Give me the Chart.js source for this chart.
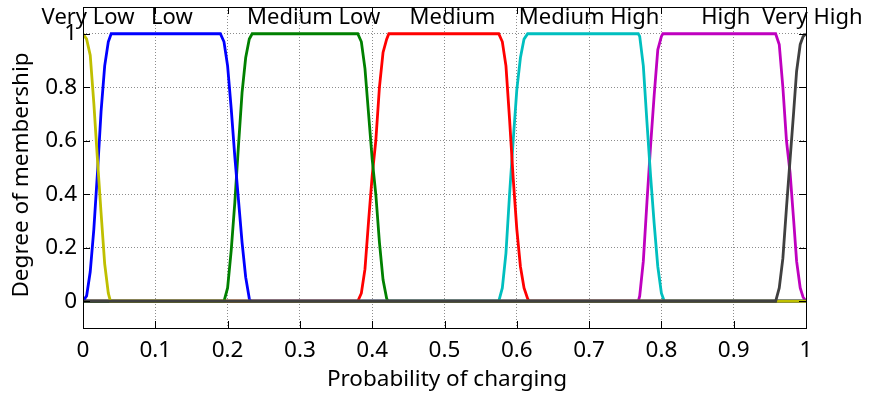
<!DOCTYPE html>
<html>
<head>
<meta charset="utf-8">
<script src="https://cdn.jsdelivr.net/npm/chart.js@4/dist/chart.umd.min.js"></script>
<style>
  html, body { margin: 0; padding: 0; background: #fff; }
  #wrap { width: 869px; height: 396px; }
</style>
</head>
<body>
<div id="wrap"><canvas id="c" width="869" height="396"></canvas></div>
<script>
// Linguistic terms of the fuzzy variable "probability of charging"
const categories = ['Very Low', 'Low', 'Medium Low', 'Medium', 'Medium High', 'High', 'Very High'];

// Membership degree of each term, as [probability, degree] pairs
const veryLow = [[0,1],[0.005,0.98],[0.01,0.92],[0.015,0.74],[0.02,0.53],[0.025,0.33],[0.03,0.14],[0.035,0.03],[0.038,0],[1,0]];
const low = [[0,0],[0.005,0.02],[0.01,0.11],[0.015,0.27],[0.02,0.48],[0.025,0.71],[0.03,0.88],[0.035,0.97],[0.039,1],
             [0.19,1],[0.195,0.97],[0.2,0.88],[0.205,0.72],[0.21,0.54],[0.215,0.38],[0.22,0.22],[0.225,0.09],[0.23,0.01],[0.232,0],[1,0]];
const mediumLow = [[0,0],[0.195,0],[0.2,0.05],[0.205,0.19],[0.21,0.37],[0.215,0.58],[0.22,0.78],[0.225,0.91],[0.23,0.98],[0.234,1],
                   [0.38,1],[0.385,0.97],[0.39,0.87],[0.395,0.7],[0.4,0.53],[0.405,0.4],[0.41,0.22],[0.415,0.08],[0.42,0.01],[0.422,0],[1,0]];
const medium = [[0,0],[0.38,0],[0.385,0.03],[0.39,0.12],[0.395,0.3],[0.4,0.47],[0.405,0.6],[0.41,0.8],[0.415,0.93],[0.42,0.98],[0.423,1],
                [0.575,1],[0.58,0.97],[0.585,0.88],[0.59,0.68],[0.595,0.46],[0.6,0.27],[0.605,0.13],[0.61,0.05],[0.615,0.01],[0.617,0],[1,0]];
const mediumHigh = [[0,0],[0.575,0],[0.58,0.05],[0.585,0.18],[0.59,0.4],[0.595,0.6],[0.6,0.79],[0.605,0.91],[0.61,0.98],[0.615,1],
                    [0.768,1],[0.77,0.99],[0.775,0.88],[0.78,0.67],[0.785,0.47],[0.79,0.29],[0.795,0.13],[0.8,0.03],[0.804,0],[1,0]];
const high = [[0,0],[0.768,0],[0.77,0.02],[0.775,0.15],[0.78,0.37],[0.785,0.58],[0.79,0.77],[0.795,0.94],[0.8,0.99],[0.802,1],
              [0.958,1],[0.963,0.96],[0.968,0.8],[0.973,0.6],[0.978,0.48],[0.983,0.3],[0.987,0.15],[0.992,0.05],[0.996,0.015],[1,0]];
const veryHigh = [[0,0],[0.958,0],[0.963,0.05],[0.968,0.16],[0.973,0.35],[0.978,0.53],[0.983,0.71],[0.987,0.86],[0.992,0.96],[0.996,0.99],[1,1]];

const seriesValues = [veryLow, low, mediumLow, medium, mediumHigh, high, veryHigh];

// Axis ticks
const xTickValues = [0, 0.1, 0.2, 0.3, 0.4, 0.5, 0.6, 0.7, 0.8, 0.9, 1];
const xTickLabels = ['0', '0.1', '0.2', '0.3', '0.4', '0.5', '0.6', '0.7', '0.8', '0.9', '1'];
const yTickValues = [0, 0.2, 0.4, 0.6, 0.8, 1];
const yTickLabels = ['0', '0.2', '0.4', '0.6', '0.8', '1'];

const FONT = '"Noto Sans", "Open Sans", sans-serif';
const colors = ['#bfbf00', '#0000ff', '#008000', '#ff0000', '#00bfbf', '#bf00bf', '#404040'];
// Very High on top, then Very Low, then the rest
const drawOrder = [1, 2, 3, 4, 5, 6, 0];

const datasets = seriesValues.map((pts, i) => ({
  label: categories[i],
  data: pts.map(p => ({ x: p[0], y: p[1] })),
  borderColor: colors[i],
  backgroundColor: colors[i],
  borderWidth: 2.8,
  pointRadius: 0,
  tension: 0,
  fill: false,
  order: drawOrder[i]
}));

// Box around the plot with inward tick marks on every side, axis titles and term names
const framePlugin = {
  id: 'frame',
  afterDatasetsDraw(chart, args, opts) {
    const { ctx, chartArea: a, scales: { x, y } } = chart;
    ctx.save();
    ctx.strokeStyle = '#000';
    ctx.lineWidth = 1;
    ctx.strokeRect(Math.round(a.left) + 0.5, Math.round(a.top) + 0.5,
                   Math.round(a.right - a.left), Math.round(a.bottom - a.top));
    const tl = 7;
    ctx.beginPath();
    xTickValues.forEach(v => {
      const px = Math.round(x.getPixelForValue(v)) + 0.5;
      ctx.moveTo(px, a.bottom); ctx.lineTo(px, a.bottom - tl);
      ctx.moveTo(px, a.top); ctx.lineTo(px, a.top + tl);
    });
    yTickValues.forEach(v => {
      const py = Math.round(y.getPixelForValue(v)) + 0.5;
      ctx.moveTo(a.left, py); ctx.lineTo(a.left + tl, py);
      ctx.moveTo(a.right, py); ctx.lineTo(a.right - tl, py);
    });
    ctx.stroke();

    ctx.fillStyle = '#000';
    ctx.font = opts.termFont;
    ctx.textAlign = 'center';
    ctx.textBaseline = 'alphabetic';
    categories.forEach((name, i) => {
      ctx.fillText(name, x.getPixelForValue(opts.termX[i]), y.getPixelForValue(opts.termY));
    });

    ctx.font = opts.titleFont;
    ctx.textBaseline = 'middle';
    ctx.fillText('Probability of charging', opts.xTitle[0], opts.xTitle[1]);
    ctx.translate(opts.yTitle[0], opts.yTitle[1]);
    ctx.rotate(-Math.PI / 2);
    ctx.fillText('Degree of membership', 0, 0);
    ctx.restore();
  }
};

new Chart(document.getElementById('c'), {
  type: 'line',
  data: { datasets },
  options: {
    responsive: false,
    animation: false,
    events: [],
    layout: { padding: { top: 7, right: 63, left: 0, bottom: 0 } },
    plugins: {
      legend: { display: false },
      tooltip: { enabled: false },
      frame: {
        termFont: '22px ' + FONT,
        termX: [0.007, 0.123, 0.319, 0.511, 0.70, 0.889, 1.009],
        termY: 1.035,
        titleFont: '22.5px ' + FONT,
        xTitle: [447, 380],
        yTitle: [22, 175]
      }
    },
    scales: {
      x: {
        type: 'linear',
        min: 0, max: 1,
        afterFit(s) { s.height = 68; s.paddingLeft = 0; s.paddingRight = 0; },
        afterBuildTicks(s) { s.ticks = xTickValues.map(v => ({ value: v })); },
        ticks: {
          color: '#000',
          font: { family: FONT, size: 22.5 },
          padding: 9,
          maxRotation: 0,
          autoSkip: false,
          callback: (v, i) => xTickLabels[i]
        },
        grid: { color: '#8c8c8c', lineWidth: 1, drawTicks: false },
        border: { display: false, dash: [1, 2] }
      },
      y: {
        type: 'linear',
        min: -0.1, max: 1.1,
        afterFit(s) { s.width = 83; s.paddingTop = 0; s.paddingBottom = 0; },
        afterBuildTicks(s) { s.ticks = yTickValues.map(v => ({ value: v })); },
        ticks: {
          color: '#000',
          font: { family: FONT, size: 22.5 },
          padding: 6,
          autoSkip: false,
          callback: (v, i) => yTickLabels[i]
        },
        grid: { color: '#8c8c8c', lineWidth: 1, drawTicks: false },
        border: { display: false, dash: [1, 2] }
      }
    }
  },
  plugins: [framePlugin]
});
</script>
</body>
</html>
